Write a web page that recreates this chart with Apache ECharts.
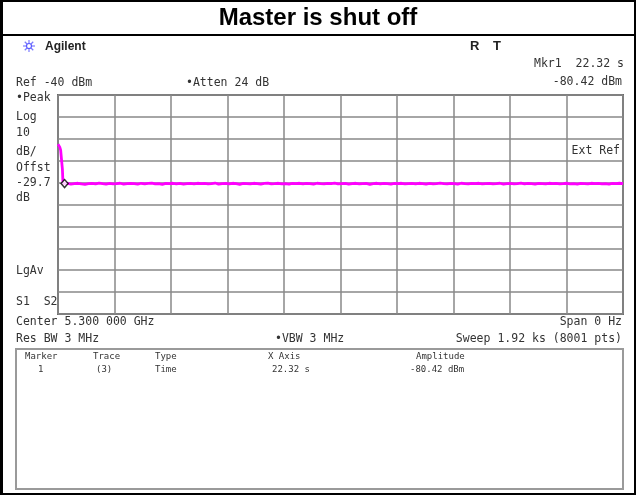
<!DOCTYPE html>
<html>
<head>
<meta charset="utf-8">
<script src="https://cdn.jsdelivr.net/npm/echarts@6/dist/echarts.min.js"></script>
<style>
  html, body { margin: 0; padding: 0; background: #fff; }
  #scope { width: 636px; height: 495px; }
</style>
</head>
<body>
<div id="scope"></div>
<script>
// sweep settings (zero span, time axis in seconds)
var sweepSeconds = 1920;          // 1.92 ks
var refLevel = -40;               // dBm, top of screen
var dbPerDiv = 10;

// start of the trace: master still on, then it drops out
var burstTime = [0, 1.5, 3, 4.5, 6, 7.5, 9, 10.5, 12, 13.5, 15, 17];
var burstDbm = [-62.5, -61.8, -62.2, -63.0, -63.8, -64.6, -65.2, -65.4, -65.8, -66.0, -74.0, -80.6];

// noise floor after the master is shut off
var noiseStart = 20;
var noiseDbm = [
  -80.6, -80.4, -80.7, -80.5, -80.3, -80.6, -80.8, -80.5, -80.4, -80.6, -80.2, -80.5, -80.7, -80.4, -80.6, -80.5, -80.3, -80.7, -80.5, -80.4,
  -80.5, -80.7, -80.3, -80.6, -80.4, -80.2, -80.6, -80.5, -80.8, -80.4, -80.5, -80.3, -80.6, -80.4, -80.7, -80.5, -80.4, -80.6, -80.3, -80.5,
  -80.4, -80.6, -80.5, -80.2, -80.7, -80.5, -80.4, -80.6, -80.3, -80.5, -80.8, -80.4, -80.5, -80.6, -80.3, -80.5, -80.7, -80.4, -80.2, -80.6,
  -80.5, -80.3, -80.6, -80.5, -80.7, -80.4, -80.5, -80.3, -80.6, -80.4, -80.5, -80.7, -80.3, -80.5, -80.6, -80.4, -80.5, -80.2, -80.6, -80.5,
  -80.4, -80.7, -80.5, -80.3, -80.6, -80.5, -80.4, -80.8, -80.5, -80.3, -80.6, -80.4, -80.5, -80.7, -80.4, -80.5, -80.3, -80.6, -80.5, -80.4,
  -80.6, -80.3, -80.5, -80.7, -80.4, -80.6, -80.5, -80.2, -80.5, -80.6, -80.4, -80.5, -80.7, -80.3, -80.5, -80.6, -80.4, -80.5, -80.3, -80.6,
  -80.5, -80.4, -80.6, -80.5, -80.3, -80.7, -80.5, -80.4, -80.6, -80.5, -80.2, -80.6, -80.4, -80.5, -80.7, -80.4, -80.5, -80.6, -80.3, -80.5,
  -80.4, -80.6, -80.5, -80.3, -80.6, -80.5, -80.7, -80.4, -80.5, -80.6, -80.3, -80.5, -80.4, -80.6, -80.5, -80.7, -80.4, -80.5, -80.3, -80.5
];

// marker 1
var markerTime = 22.32;
var markerDbm = -80.42;

var noiseStep = (sweepSeconds - noiseStart) / (noiseDbm.length - 1);
var trace = burstTime.map(function (t, i) { return [t, burstDbm[i]]; });
noiseDbm.forEach(function (v, i) { trace.push([noiseStart + i * noiseStep, v]); });

var mono = '"DejaVu Sans Mono", "Liberation Mono", monospace';
var ink = '#333';

function txt(x, y, s, opt) {
    opt = opt || {};
    return {
        type: 'text', x: x, y: y, silent: true,
        style: {
            text: s,
            fill: opt.fill || ink,
            font: opt.font || ('11.5px ' + mono),
            textAlign: opt.align || 'left',
            textVerticalAlign: 'middle'
        }
    };
}
function hline(x1, x2, y, w, c) {
    return { type: 'line', silent: true, shape: { x1: x1, y1: y, x2: x2, y2: y }, style: { stroke: c, lineWidth: w } };
}
function vline(x, y1, y2, w, c) {
    return { type: 'line', silent: true, shape: { x1: x, y1: y1, x2: x, y2: y2 }, style: { stroke: c, lineWidth: w } };
}

// Agilent spark logo
var logo = { type: 'group', x: 29, y: 46, silent: true, children: [] };
[0, 45, 90, 135].forEach(function (a) {
    var r = a * Math.PI / 180;
    logo.children.push({ type: 'line', shape: { x1: -6 * Math.cos(r), y1: -6 * Math.sin(r), x2: 6 * Math.cos(r), y2: 6 * Math.sin(r) },
        style: { stroke: '#7b7bff', lineWidth: 1.2 } });
});
logo.children.push({ type: 'circle', shape: { cx: 0, cy: 0, r: 2.5 }, style: { fill: '#fff', stroke: '#5a5aff', lineWidth: 1.2 } });

var small = '9px ' + mono;

var chart = echarts.init(document.getElementById('scope'));
chart.setOption({
    backgroundColor: '#fff',
    animation: false,
    grid: { left: 58, top: 95, width: 565, height: 219, show: true, borderColor: '#6a6a6a', borderWidth: 2 },
    xAxis: {
        type: 'value', min: 0, max: sweepSeconds, interval: sweepSeconds / 10,
        axisLine: { show: false }, axisTick: { show: false }, axisLabel: { show: false },
        splitLine: { lineStyle: { color: '#888', width: 1.5 } }
    },
    yAxis: {
        type: 'value', min: refLevel - 10 * dbPerDiv, max: refLevel, interval: dbPerDiv,
        axisLine: { show: false }, axisTick: { show: false }, axisLabel: { show: false },
        splitLine: { lineStyle: { color: '#888', width: 1.5 } }
    },
    series: [
        {
            name: 'Trace 3',
            type: 'line',
            data: trace,
            symbol: 'none',
            lineStyle: { color: '#ff00ff', width: 2.8 },
            z: 3
        },
        {
            name: 'Mkr1',
            type: 'scatter',
            data: [[markerTime, markerDbm]],
            symbol: 'diamond',
            symbolSize: [7, 8],
            itemStyle: { color: '#fff', borderColor: '#000', borderWidth: 1.5 },
            z: 4
        }
    ],
    graphic: [
        // frame
        vline(1.5, 0, 495, 3, '#000'),
        vline(635, 0, 495, 2, '#000'),
        hline(0, 636, 1, 2, '#000'),
        hline(0, 636, 494, 2, '#000'),
        hline(0, 636, 35, 2, '#000'),
        txt(318, 18, 'Master is shut off', { fill: '#000', font: 'bold 24px "Liberation Sans", Arial, sans-serif', align: 'center' }),

        logo,
        txt(45, 47, 'Agilent', { fill: '#222', font: 'bold 12px "Liberation Sans", Arial, sans-serif' }),
        txt(470, 46, 'R', { fill: '#222', font: 'bold 13px "Liberation Sans", Arial, sans-serif' }),
        txt(493, 46, 'T', { fill: '#222', font: 'bold 13px "Liberation Sans", Arial, sans-serif' }),
        txt(624, 64, 'Mkr1  22.32 s', { align: 'right' }),
        txt(16, 83, 'Ref -40 dBm'),
        txt(186, 83, '•Atten 24 dB'),
        txt(622, 82, '-80.42 dBm', { align: 'right' }),

        // left annotation column
        txt(16, 98, '•Peak'),
        txt(16, 117, 'Log'),
        txt(16, 133, '10'),
        txt(16, 152, 'dB/'),
        txt(16, 168, 'Offst'),
        txt(16, 183, '-29.7'),
        txt(16, 198, 'dB'),
        txt(16, 271, 'LgAv'),
        txt(16, 302, 'S1  S2'),
        txt(620, 151, 'Ext Ref', { align: 'right' }),

        // bottom settings
        txt(16, 322, 'Center 5.300 000 GHz'),
        txt(622, 322, 'Span 0 Hz', { align: 'right' }),
        txt(16, 339, 'Res BW 3 MHz'),
        txt(275, 339, '•VBW 3 MHz'),
        txt(622, 339, 'Sweep 1.92 ks (8001 pts)', { align: 'right' }),

        // marker table
        { type: 'rect', silent: true, shape: { x: 16, y: 349, width: 607, height: 140 },
          style: { fill: 'none', stroke: '#9a9a9a', lineWidth: 2 } },
        txt(25, 357, 'Marker', { font: small }),
        txt(93, 357, 'Trace', { font: small }),
        txt(155, 357, 'Type', { font: small }),
        txt(268, 357, 'X Axis', { font: small }),
        txt(416, 357, 'Amplitude', { font: small }),
        txt(38, 370, '1', { font: small }),
        txt(96, 370, '(3)', { font: small }),
        txt(155, 370, 'Time', { font: small }),
        txt(272, 370, '22.32 s', { font: small }),
        txt(410, 370, '-80.42 dBm', { font: small })
    ]
});
</script>
</body>
</html>
